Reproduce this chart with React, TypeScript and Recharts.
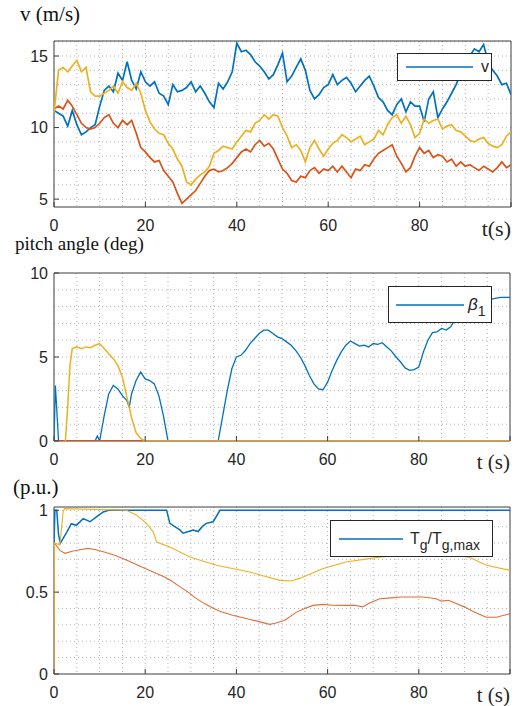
import React from "react";
import {
  LineChart,
  Line,
  XAxis,
  YAxis,
  CartesianGrid,
  ReferenceArea,
  Legend,
} from "recharts";

const BLUE = "#0072BD";
const RED = "#D95319";
const YELLOW = "#EDB120";
const AXIS = "#262626";
const FRAME = "#3c3c3c";
const GRID = "#b4b4b4";
const SANS = "'Liberation Sans', Arial, sans-serif";
const SERIF = "'Liberation Serif', 'Times New Roman', serif";

// ---- wind speed panel, one sample per second
const windTime = Array.from({ length: 101 }, (_, i) => i);
const windBlue = [
  11.2, 11.0, 10.8, 10.1, 11.2, 10.2, 9.5, 9.7, 10.0, 10.2,
  11.5, 12.6, 12.9, 12.5, 13.8, 13.3, 14.6, 13.3, 12.7, 13.9,
  13.2, 12.9, 13.2, 12.4, 12.2, 11.6, 13.0, 12.5, 12.6, 12.8,
  13.2, 12.5, 12.9, 12.4, 11.8, 11.4, 13.1, 12.7, 13.2, 13.9,
  15.9, 15.3, 15.4, 15.1, 14.6, 14.3, 13.9, 13.4, 13.7, 14.4,
  15.2, 13.2, 13.6, 14.2, 14.8, 14.0, 12.6, 12.0, 12.3, 12.8,
  13.0, 13.7, 13.0, 13.3, 13.5, 13.1, 12.5, 12.9, 13.3, 13.6,
  12.9, 12.1, 11.8, 11.2, 10.9, 11.6, 12.0, 11.1, 11.8, 11.5,
  11.5, 10.4, 12.0, 12.5, 10.7, 11.3, 11.8, 12.4, 13.0, 13.8,
  14.5, 15.0, 15.5, 15.3, 15.8, 14.6, 14.0, 13.6, 13.0, 13.1,
  12.3,
];
const windYellow = [
  11.0, 14.0, 14.2, 13.9, 14.3, 14.7, 13.9, 14.2, 12.5, 12.2,
  12.2, 12.4, 12.6, 12.9, 12.4, 13.2, 12.8, 12.6, 13.1, 12.4,
  11.2, 10.4, 9.9, 9.6, 9.5, 8.9, 8.5, 7.8, 7.3, 6.2,
  6.0, 6.4, 6.7, 6.9, 7.3, 8.2, 8.4, 8.7, 8.6, 8.5,
  9.0, 9.4, 9.8, 9.7, 10.3, 10.5, 10.9, 10.6, 10.9, 10.8,
  10.0, 9.4, 8.6, 8.8, 8.4, 7.6, 8.6, 9.1, 8.5, 8.0,
  8.5, 8.9, 9.1, 9.5, 9.3, 9.0, 9.2, 9.4, 8.8, 9.0,
  9.2, 9.8, 9.5, 10.2, 10.7, 10.9, 10.3, 10.8, 10.2, 9.3,
  9.6, 10.6, 10.3, 10.5, 10.6, 9.9, 10.1, 10.2, 9.8, 9.7,
  9.4, 9.1, 9.0, 9.2, 9.3, 8.9, 8.7, 8.6, 8.8, 9.4,
  9.7,
];
const windRed = [
  11.3, 11.5, 11.3, 11.9, 11.5, 10.9, 10.3, 10.0, 9.9, 10.0,
  10.3, 10.7, 10.9, 10.3, 10.0, 10.5, 10.2, 10.5, 9.6, 8.6,
  8.3, 7.9, 7.6, 7.7, 7.0, 6.6, 6.2, 5.4, 4.7, 5.0,
  5.3, 5.6, 6.1, 6.6, 7.0, 7.1, 6.9, 7.0, 7.2, 7.5,
  7.9, 8.3, 8.5, 8.3, 8.8, 9.1, 8.7, 8.9, 8.5, 7.8,
  7.1, 6.8, 6.3, 6.2, 6.6, 6.5, 7.0, 7.2, 6.8, 7.1,
  7.0, 7.3, 6.9, 7.3, 6.9, 6.5, 7.1, 7.0, 7.4, 7.3,
  7.8, 8.2, 8.4, 8.6, 8.8, 8.0, 7.5, 6.9, 7.2, 8.0,
  8.6, 8.2, 8.4, 7.9, 8.1, 8.0, 7.6, 7.8, 7.3, 7.6,
  7.3, 7.4, 7.2, 7.0, 7.3, 7.1, 6.9, 7.2, 7.6, 7.2,
  7.4,
];
const windRows = windTime.map((t, i) => ({
  t,
  blue: windBlue[i],
  yellow: windYellow[i],
  red: windRed[i],
}));

// ---- pitch angle panel
const pitchBlueT = [
  0, 0.3, 1, 9, 9.5, 10, 11, 12, 13, 14, 15, 16, 16.5, 17, 18, 19, 20, 21, 22,
  23, 24, 25, 36, 37, 38, 39, 40, 41, 42, 43, 44, 45, 46, 47, 48, 49, 50, 51,
  52, 53, 54, 55, 56, 57, 58, 59, 60, 61, 62, 63, 64, 65, 66, 67, 68, 69, 70,
  71, 72, 73, 74, 75, 76, 77, 78, 79, 80, 81, 82, 83, 84, 85, 86, 87, 88, 89,
  90, 91, 92, 93, 94, 95, 96, 97, 98, 99, 100,
];
const pitchBlueV = [
  0, 3.3, 0, 0, 0.3, 0, 1.5, 2.8, 3.3, 3.1, 2.7, 2.4, 2.0, 2.8, 3.6, 4.1, 3.7,
  3.6, 3.4, 2.7, 1.5, 0, 0, 1.5, 3.0, 4.3, 5.0, 5.1, 5.4, 5.8, 6.1, 6.4, 6.6,
  6.6, 6.4, 6.2, 6.1, 5.9, 5.7, 5.4, 5.0, 4.5, 3.9, 3.4, 3.1, 3.05, 3.5, 4.2,
  4.8, 5.3, 5.7, 5.95, 5.8, 5.65, 5.7, 5.6, 5.8, 5.75, 5.85, 5.6, 5.35, 5.0,
  4.7, 4.35, 4.2, 4.25, 4.4, 5.3, 6.0, 6.45, 6.5, 6.7, 6.6, 6.8, 7.25, 7.6,
  7.8, 7.9, 8.0, 8.1, 8.2, 8.35, 8.45, 8.5, 8.55, 8.55, 8.55,
];
const pitchYellowT = [
  2.5, 3, 3.5, 4, 5, 6, 7, 8, 9, 10, 11, 12, 13, 14, 15, 16, 17, 18, 19, 20,
  100,
];
const pitchYellowV = [
  0, 2.0, 4.5, 5.5, 5.6, 5.5, 5.6, 5.55, 5.7, 5.8, 5.5, 5.2, 4.9, 4.5, 3.8,
  2.6, 1.4, 0.5, 0.15, 0, 0,
];
const pitchRedT = [0, 100];
const pitchRedV = [0, 0];

// ---- generator torque panel
const torqueBlueT = [
  0, 0.2, 0.6, 1, 1.4, 2.8, 3.8, 4.9, 6.4, 7.9, 9.3, 10.8, 12, 24.7, 25.4,
  26.5, 27.6, 28.3, 29.5, 30.5, 31.6, 32.5, 33.4, 34.9, 36.4, 100,
];
const torqueBlueV = [
  0.8, 1.0, 1.0, 0.85, 0.8, 0.867, 0.918, 0.908, 0.949, 0.93, 0.96, 0.99, 1.0,
  1.0, 0.92, 0.9, 0.88, 0.86, 0.87, 0.88, 0.87, 0.9, 0.92, 0.93, 1.0, 1.0,
];
const torqueYellowT = [
  0, 0.1, 1.3, 2, 2.3, 15.9, 18.1, 20.3, 21.8, 22.5, 25.4, 29.8, 35.6, 42.9,
  49.5, 52, 53.9, 59, 64, 71.4, 78, 85, 91, 94.8, 100,
];
const torqueYellowV = [
  0, 0.8, 0.79, 0.99, 1.01, 1.0, 0.97, 0.92, 0.867, 0.806, 0.776, 0.714,
  0.664, 0.623, 0.572, 0.568, 0.584, 0.645, 0.684, 0.714, 0.73, 0.73, 0.714,
  0.664, 0.633,
];
const torqueRedT = [
  0, 0.1, 1.3, 2.4, 4, 6, 7.4, 9, 11, 13.3, 16, 18.4, 20, 22, 24, 25.7, 27.5,
  29.4, 31, 33, 35, 36.7, 39, 41, 43, 45.4, 47.3, 48.5, 50.5, 52, 53.2, 55,
  56.8, 59, 61, 64, 66, 67.7, 69, 71.4, 74, 76, 78.7, 81, 83.8, 85, 86.5,
  88.2, 90, 92, 94.8, 97, 100,
];
const torqueRedV = [
  0, 0.8, 0.755, 0.737, 0.75, 0.76, 0.767, 0.76, 0.745, 0.725, 0.695, 0.664,
  0.645, 0.62, 0.595, 0.57, 0.535, 0.5, 0.465, 0.43, 0.4, 0.38, 0.36, 0.347,
  0.333, 0.317, 0.303, 0.31, 0.327, 0.355, 0.378, 0.4, 0.419, 0.425, 0.42,
  0.419, 0.42, 0.41, 0.43, 0.46, 0.465, 0.47, 0.47, 0.47, 0.46, 0.445, 0.45,
  0.43, 0.41, 0.38, 0.347, 0.347, 0.368,
];

// ---- axes
const timeTicks = [0, 20, 40, 60, 80, 100];
const timeGrid = [5, 10, 15, 20, 25, 30, 35, 40, 45, 50, 55, 60, 65, 70, 75, 80, 85, 90, 95];
const windTicks = [5, 10, 15];
const windGrid = [5, 6, 7, 8, 9, 10, 11, 12, 13, 14, 15, 16];
const pitchTicks = [0, 5, 10];
const pitchGrid = [1, 2, 3, 4, 5, 6, 7, 8, 9];
const torqueTicks = [0, 0.5, 1];
const torqueGrid = [0.1, 0.2, 0.3, 0.4, 0.5, 0.6, 0.7, 0.8, 0.9, 1.0];

const pts = (ts: number[], vs: number[]) => ts.map((t, i) => ({ t, v: vs[i] }));

function makeTimeTick(label: string, size: number) {
  return (props: any) => {
    const { x, y, payload } = props;
    if (payload.value === 100) {
      return (
        <text x={x} y={y} dy="0.71em" textAnchor="end" fontFamily={SERIF} fontSize={size} fill={AXIS}>
          {label}
        </text>
      );
    }
    return (
      <text x={x} y={y} dy="0.71em" textAnchor="middle" fontFamily={SANS} fontSize={16} fill={AXIS}>
        {payload.value}
      </text>
    );
  };
}

function LegendBox({
  payload,
  width,
  height,
  pad,
  lineLen,
  gap,
  children,
}: any) {
  const entry = (payload || []).find((p: any) => p.color === BLUE) || { color: BLUE };
  return (
    <div
      style={{
        boxSizing: "border-box",
        width,
        height,
        border: `1px solid ${AXIS}`,
        background: "#fff",
        display: "flex",
        alignItems: "center",
        paddingLeft: pad,
        fontFamily: SANS,
        fontSize: 16,
        color: AXIS,
      }}
    >
      <svg width={lineLen} height={4} style={{ display: "block" }}>
        <line x1={0} y1={2} x2={lineLen} y2={2} stroke={entry.color} strokeWidth={1.5} />
      </svg>
      <span style={{ marginLeft: gap, whiteSpace: "nowrap" }}>{children}</span>
    </div>
  );
}

const sub = { fontSize: 14, position: "relative" as const, top: 6 };

function frame(y1: number, y2: number) {
  return (
    <ReferenceArea
      x1={0}
      x2={100}
      y1={y1}
      y2={y2}
      fill="none"
      stroke={FRAME}
      strokeWidth={1}
      ifOverflow="visible"
      zIndex={-50}
    />
  );
}

function xAxis(label: string, size: number) {
  return (
    <XAxis
      dataKey="t"
      type="number"
      domain={[0, 100]}
      ticks={timeTicks}
      allowDataOverflow
      interval={0}
      height={40}
      axisLine={false}
      tickSize={-5}
      tickMargin={18}
      stroke={FRAME}
      tick={makeTimeTick(label, size)}
    />
  );
}

function yAxis(domain: number[], ticks: number[]) {
  return (
    <YAxis
      type="number"
      domain={domain}
      ticks={ticks}
      allowDataOverflow
      interval={0}
      width={54}
      axisLine={false}
      tickSize={-5}
      tickMargin={11}
      stroke={FRAME}
      tick={{ fontFamily: SANS, fontSize: 16, fill: AXIS }}
    />
  );
}

export default function App() {
  const title = (text: string, left: number, top: number, size: number) => (
    <div
      style={{
        position: "absolute",
        left,
        top,
        fontFamily: SERIF,
        fontSize: size,
        lineHeight: 1,
        color: "#111",
        whiteSpace: "nowrap",
      }}
    >
      {text}
    </div>
  );

  return (
    <div style={{ position: "relative", width: 520, height: 706, background: "#fff", overflow: "hidden" }}>
      <style>{"body{margin:0;background:#fff}"}</style>

      <div style={{ position: "absolute", left: 0, top: 0 }}>
        <LineChart width={520} height={247} data={windRows} margin={{ top: 41, right: 9, bottom: 0, left: 0 }}>
          <CartesianGrid
            verticalValues={timeGrid}
            horizontalValues={windGrid}
            stroke={GRID}
            strokeDasharray="1 3"
          />
          {xAxis("t(s)", 22)}
          {yAxis([4.45, 16.05], windTicks)}
          {frame(4.45, 16.05)}
          <Line dataKey="blue" name="v" stroke={BLUE} strokeWidth={1.7} dot={false} isAnimationActive={false} />
          <Line dataKey="red" name="v2" legendType="none" stroke={RED} strokeWidth={1.7} dot={false} isAnimationActive={false} />
          <Line dataKey="yellow" name="v3" legendType="none" stroke={YELLOW} strokeWidth={1.7} dot={false} isAnimationActive={false} />
          <Legend
            layout="horizontal"
            verticalAlign="middle"
            align="center"
            wrapperStyle={{ left: 397, top: 53, width: 95, height: 28 }}
            content={(p: any) => (
              <LegendBox payload={p.payload} width={95} height={28} pad={8} lineLen={67} gap={8}>
                v
              </LegendBox>
            )}
          />
        </LineChart>
      </div>

      <div style={{ position: "absolute", left: 0, top: 230 }}>
        <LineChart width={520} height={251} margin={{ top: 43, right: 10, bottom: 0, left: 0 }}>
          <CartesianGrid
            verticalValues={timeGrid}
            horizontalValues={pitchGrid}
            stroke={GRID}
            strokeDasharray="1 3"
          />
          {xAxis("t (s)", 21)}
          {yAxis([0, 10], pitchTicks)}
          {frame(0, 10)}
          <Line data={pts(pitchBlueT, pitchBlueV)} dataKey="v" name="b1" stroke={BLUE} strokeWidth={1.3} dot={false} isAnimationActive={false} />
          <Line data={pts(pitchRedT, pitchRedV)} dataKey="v" name="b2" legendType="none" stroke={RED} strokeWidth={2} dot={false} isAnimationActive={false} />
          <Line data={pts(pitchYellowT, pitchYellowV)} dataKey="v" name="b3" legendType="none" stroke={YELLOW} strokeWidth={1.5} dot={false} isAnimationActive={false} />
          <Legend
            layout="horizontal"
            verticalAlign="middle"
            align="center"
            wrapperStyle={{ left: 388, top: 56, width: 104, height: 37 }}
            content={(p: any) => (
              <LegendBox payload={p.payload} width={104} height={37} pad={7} lineLen={68} gap={4}>
                <span style={{ fontStyle: "italic", fontSize: 17 }}>β</span>
                <span style={sub}>1</span>
              </LegendBox>
            )}
          />
        </LineChart>
      </div>

      <div style={{ position: "absolute", left: 0, top: 470 }}>
        <LineChart width={520} height={244} margin={{ top: 37, right: 10, bottom: 0, left: 0 }}>
          <CartesianGrid
            verticalValues={timeGrid}
            horizontalValues={torqueGrid}
            stroke={GRID}
            strokeDasharray="1 3"
          />
          {xAxis("t (s)", 21)}
          {yAxis([0, 1.02], torqueTicks)}
          {frame(0, 1.02)}
          <Line data={pts(torqueBlueT, torqueBlueV)} dataKey="v" name="T1" stroke={BLUE} strokeWidth={1.5} dot={false} isAnimationActive={false} />
          <Line data={pts(torqueRedT, torqueRedV)} dataKey="v" name="T2" legendType="none" stroke={RED} strokeWidth={1.1} strokeOpacity={0.85} dot={false} isAnimationActive={false} />
          <Line data={pts(torqueYellowT, torqueYellowV)} dataKey="v" name="T3" legendType="none" stroke={YELLOW} strokeWidth={1.1} dot={false} isAnimationActive={false} />
          <Legend
            layout="horizontal"
            verticalAlign="middle"
            align="center"
            wrapperStyle={{ left: 330, top: 50, width: 163, height: 37 }}
            content={(p: any) => (
              <LegendBox payload={p.payload} width={163} height={37} pad={8} lineLen={64} gap={7}>
                T<span style={sub}>g</span>/T<span style={sub}>g,max</span>
              </LegendBox>
            )}
          />
        </LineChart>
      </div>

      {title("v (m/s)", 20, 4, 21)}
      {title("pitch angle (deg)", 15, 234, 19)}
      {title("(p.u.)", 13, 477, 21)}
    </div>
  );
}
